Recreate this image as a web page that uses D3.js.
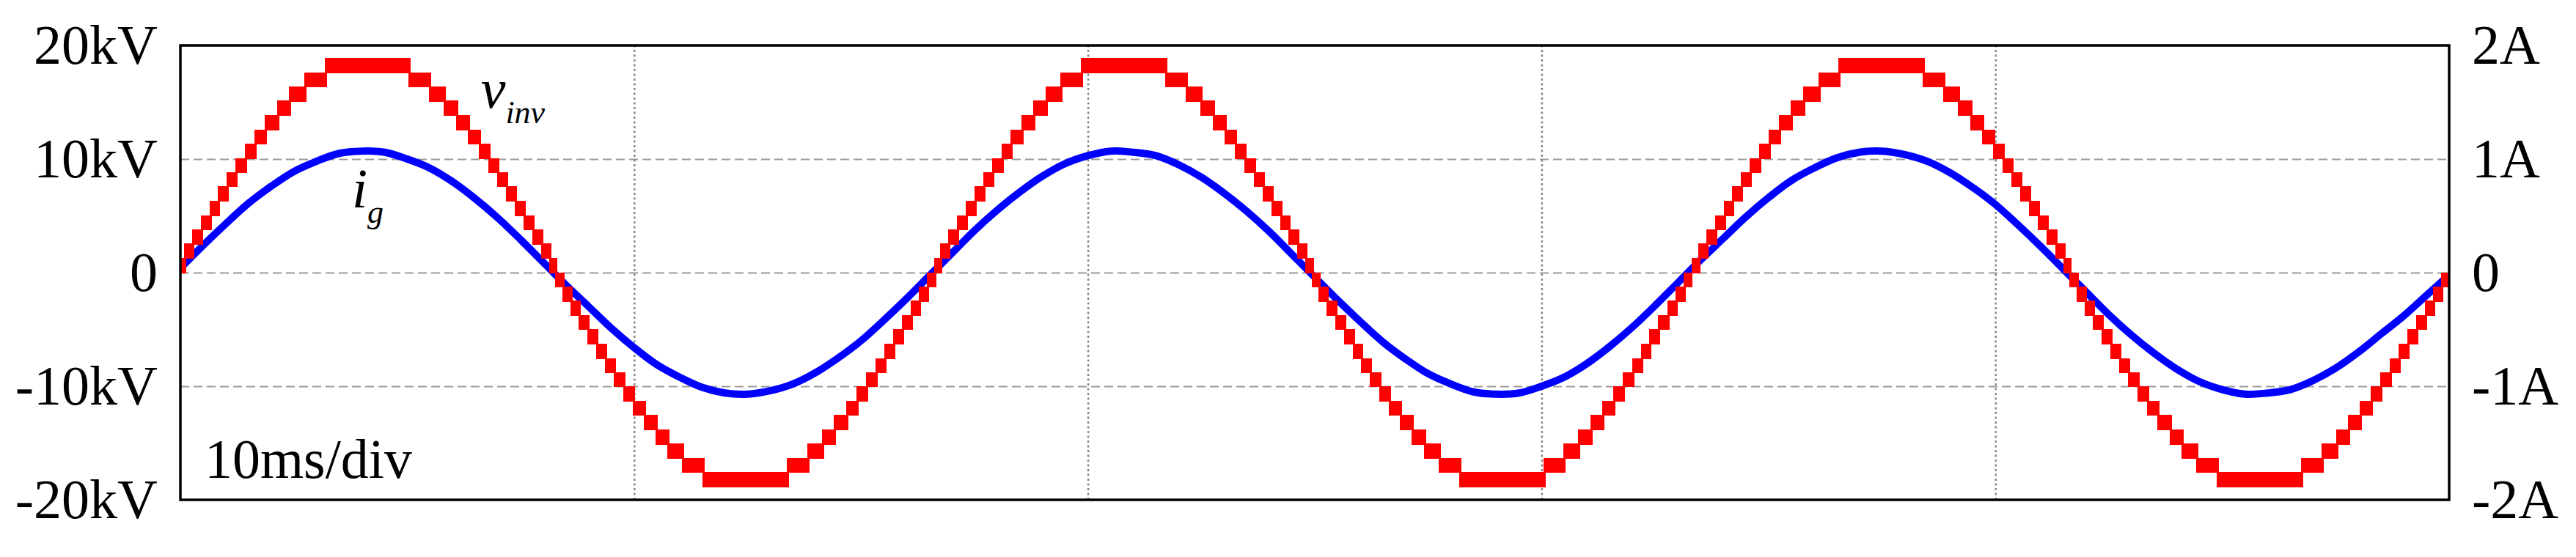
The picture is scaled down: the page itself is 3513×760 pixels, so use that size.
<!DOCTYPE html>
<html>
<head>
<meta charset="utf-8">
<script src="https://d3js.org/d3.v7.min.js"></script>
<style>
  body { margin: 0; background: #fff; }
  svg text { font-family: "Liberation Serif", "Times New Roman", serif; fill: #000; }
</style>
</head>
<body>
<div class="wave-plot"></div>
<script>
//Tick values and labels.
var divTicksMs = [10, 20, 30, 40];
var voltTicks = [-20, -10, 0, 10, 20];
var voltTickLabels = ["-20kV", "-10kV", "0", "10kV", "20kV"];
var ampTicks = [-2, -1, 0, 1, 2];
var ampTickLabels = ["-2A", "-1A", "0", "1A", "2A"];
var timeDomainMs = [0, 50];

//Inverter voltage v_inv, one period:
//instant of each level change (ms from the period start, last one = period end)
var vinvEdgesMs = [
  0, 0.14, 0.32, 0.51, 0.71, 0.89, 1.09, 1.28, 1.49, 1.69, 1.93, 2.19, 2.46, 2.79, 3.24,
  5.09, 5.55, 5.87, 6.14, 6.40, 6.64, 6.85, 7.05, 7.24, 7.44, 7.63, 7.82, 8.01, 8.19,
  8.33, 8.48, 8.66, 8.84, 9.04, 9.23, 9.42, 9.61, 9.82, 10.03, 10.27, 10.53, 10.80, 11.12, 11.57,
  13.43, 13.88, 14.20, 14.47, 14.73, 14.97, 15.18, 15.39, 15.58, 15.77, 15.96, 16.16, 16.34, 16.52,
  16.67
];
//and the level (kV) held after each change.
var vinvLevelsKV = [
  0.63, 1.89, 3.14, 4.40, 5.66, 6.92, 8.18, 9.43, 10.69, 11.95, 13.21, 14.47, 15.72, 16.98, 18.24,
  16.98, 15.72, 14.47, 13.21, 11.95, 10.69, 9.43, 8.18, 6.92, 5.66, 4.40, 3.14, 1.89, 0.63,
  -0.63, -1.89, -3.14, -4.40, -5.66, -6.92, -8.18, -9.43, -10.69, -11.95, -13.21, -14.47, -15.72, -16.98, -18.24,
  -16.98, -15.72, -14.47, -13.21, -11.95, -10.69, -9.43, -8.18, -6.92, -5.66, -4.40, -3.14, -1.89, -0.63
];
//Rising zero crossings where the three periods start (ms).
var vinvCycleStartsMs = [-0.04, 16.63, 33.33];

//Grid current i_g, one sample every 0.5 ms from t = 0.
var igStepMs = 0.5;
var igValuesA = [
  0.04, 0.24, 0.43, 0.61, 0.76, 0.89, 0.98, 1.05, 1.07, 1.06,
  1.00, 0.92, 0.80, 0.65, 0.48, 0.29, 0.09, -0.11, -0.30, -0.49,
  -0.66, -0.81, -0.92, -1.01, -1.06, -1.07, -1.04, -0.98, -0.88, -0.75,
  -0.60, -0.42, -0.23, -0.03, 0.17, 0.37, 0.55, 0.71, 0.85, 0.96,
  1.03, 1.07, 1.06, 1.03, 0.95, 0.84, 0.70, 0.54, 0.36, 0.16,
  -0.04, -0.24, -0.43, -0.61, -0.76, -0.89, -0.98, -1.05, -1.07, -1.06,
  -1.00, -0.92, -0.80, -0.65, -0.48, -0.29, -0.09, 0.11, 0.30, 0.49,
  0.66, 0.81, 0.92, 1.01, 1.06, 1.07, 1.04, 0.98, 0.88, 0.75,
  0.60, 0.42, 0.23, 0.03, -0.17, -0.37, -0.55, -0.71, -0.85, -0.96,
  -1.03, -1.07, -1.06, -1.03, -0.95, -0.84, -0.70, -0.54, -0.38, -0.20,
  -0.02
];

//SVG area and margins.
var svgWidth = 3513;
var svgHeight = 760;
var margin = { top: 62, right: 173, bottom: 78, left: 246 };
var chartWidth = svgWidth - margin.left - margin.right;
var chartHeight = svgHeight - margin.top - margin.bottom;
var labelSize = 76;

var svg = d3.select(".wave-plot")
  .append("svg")
  .attr("width", svgWidth)
  .attr("height", svgHeight);

var chart = svg.append("g")
  .attr("transform", "translate(" + margin.left + "," + margin.top + ")");

//Scales.
var xScale = d3.scaleLinear().domain(timeDomainMs).range([0, chartWidth]);
var yVolt = d3.scaleLinear().domain([-20, 20]).range([chartHeight, 0]);
var yAmp = d3.scaleLinear().domain([-2, 2]).range([chartHeight, 0]);

svg.append("defs").append("clipPath")
  .attr("id", "plot-clip")
  .append("rect")
  .attr("width", chartWidth)
  .attr("height", chartHeight);

//Horizontal dashed grid.
chart.append("g")
  .call(d3.axisLeft(yVolt).tickValues(voltTicks.slice(1, -1)).tickSize(-chartWidth).tickFormat(""))
  .call(function(g) { g.select(".domain").remove(); })
  .selectAll("line")
  .attr("stroke", "#9a9a9a")
  .attr("stroke-width", 2)
  .attr("stroke-dasharray", "12,6");

//Vertical dotted division lines.
chart.append("g")
  .attr("transform", "translate(0," + chartHeight + ")")
  .call(d3.axisBottom(xScale).tickValues(divTicksMs).tickSize(-chartHeight).tickFormat(""))
  .call(function(g) { g.select(".domain").remove(); })
  .selectAll("line")
  .attr("stroke", "#888")
  .attr("stroke-width", 2.5)
  .attr("stroke-dasharray", "3,3.5");

var waves = chart.append("g").attr("clip-path", "url(#plot-clip)");

//Grid current.
var igLine = d3.line()
  .x(function(d, i) { return xScale(i * igStepMs); })
  .y(function(d) { return yAmp(d); })
  .curve(d3.curveCatmullRom);

waves.append("path")
  .datum(igValuesA)
  .attr("fill", "none")
  .attr("stroke", "#0000ff")
  .attr("stroke-width", 10)
  .attr("stroke-linejoin", "round")
  .attr("d", igLine);

//Inverter voltage steps, one block per level held.
var levelStep = vinvLevelsKV[1] - vinvLevelsKV[0];
var steps = [];
vinvCycleStartsMs.forEach(function(start) {
  vinvLevelsKV.forEach(function(level, i) {
    steps.push({ t0: start + vinvEdgesMs[i], t1: start + vinvEdgesMs[i + 1], level: level });
  });
});

//blocks are drawn a little wider than their step so neighbours overlap like in the scope export
waves.selectAll("rect.vinv")
  .data(steps)
  .enter().append("rect")
    .attr("class", "vinv")
    .attr("x", function(d) { return xScale(d.t0) - 1.5; })
    .attr("width", function(d) { return xScale(d.t1) - xScale(d.t0) + 3; })
    .attr("y", function(d) { return yVolt(d.level + levelStep / 2) - 0.5; })
    .attr("height", function(d) { return yVolt(d.level - levelStep / 2) - yVolt(d.level + levelStep / 2) + 1; })
    .attr("fill", "#ff0000")
    .attr("shape-rendering", "crispEdges");

//Frame.
chart.append("rect")
  .attr("width", chartWidth)
  .attr("height", chartHeight)
  .attr("fill", "none")
  .attr("stroke", "#000")
  .attr("stroke-width", 3.5);

//Left axis labels (kV).
chart.append("g")
  .call(d3.axisLeft(yVolt).tickValues(voltTicks).tickSize(0).tickPadding(31)
    .tickFormat(function(d, i) { return voltTickLabels[i]; }))
  .call(function(g) { g.select(".domain").remove(); })
  .attr("font-family", null)
  .attr("font-size", labelSize);

//Right axis labels (A).
chart.append("g")
  .attr("transform", "translate(" + chartWidth + ",0)")
  .call(d3.axisRight(yAmp).tickValues(ampTicks).tickSize(0).tickPadding(31)
    .tickFormat(function(d, i) { return ampTickLabels[i]; }))
  .call(function(g) { g.select(".domain").remove(); })
  .attr("font-family", null)
  .attr("font-size", labelSize);

//Time base note.
chart.append("text")
  .attr("x", 33)
  .attr("y", chartHeight - 30)
  .attr("font-size", labelSize)
  .text("10ms/div");

//Trace names.
var vName = chart.append("text")
  .attr("x", xScale(6.62))
  .attr("y", yVolt(14.5))
  .attr("font-size", labelSize)
  .attr("font-style", "italic");
vName.append("tspan").text("v");
vName.append("tspan").attr("font-size", 44).attr("dy", 21).text("inv");

var iName = chart.append("text")
  .attr("x", xScale(3.78))
  .attr("y", yVolt(5.74))
  .attr("font-size", labelSize)
  .attr("font-style", "italic");
iName.append("tspan").text("i");
iName.append("tspan").attr("font-size", 44).attr("dy", 21).text("g");
</script>
</body>
</html>
